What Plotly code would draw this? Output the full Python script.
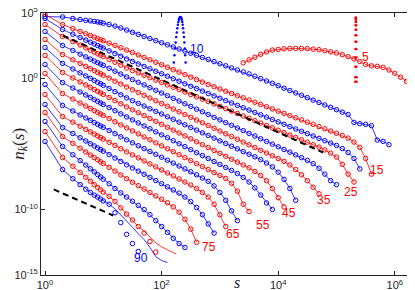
import plotly.graph_objects as go

# common log10(s) grid for the marker series
LOG_S = [0, 0.301, 0.477, 0.602, 0.699, 0.778, 0.845, 0.903, 0.954, 1.0,
         1.1, 1.2, 1.3, 1.4, 1.5, 1.6, 1.7, 1.8, 1.9, 2.0,
         2.1, 2.2, 2.3, 2.4, 2.5, 2.6, 2.7, 2.8, 2.9, 3.0,
         3.1, 3.2, 3.3, 3.4, 3.5, 3.6, 3.7, 3.8, 3.9, 4.0,
         4.1, 4.2, 4.3, 4.4, 4.5, 4.6, 4.7, 4.8, 4.9, 5.0,
         5.1, 5.2, 5.3, 5.4, 5.5, 5.6, 5.7, 5.8, 5.9, 6.0,
         6.1, 6.2, 6.3, 6.4]

# log10 n_k(s) per series (starting at s = 1)
N10 = [4.73, 4.70, 4.58, 4.50, 4.44, 4.40, 4.36, 4.32, 4.28, 4.22,
       4.12, 4.00, 3.86, 3.70, 3.53, 3.37, 3.21, 3.05, 2.89, 2.73,
       2.57, 2.41, 2.25, 2.09, 1.93, 1.77, 1.61, 1.45, 1.29, 1.13,
       0.97, 0.81, 0.65, 0.50, 0.35, 0.17, -0.01, -0.19, -0.37, -0.55,
       -0.74, -0.92, -1.10, -1.28, -1.46, -1.65, -1.83, -2.02, -2.20, -2.38,
       -2.57, -2.75, -3.35, -3.45, -3.50, -3.60, -4.70, -4.80, -5.05]
N15 = [4.89, 4.12, 3.81, 3.59, 3.42, 3.28, 3.16, 3.05, 2.96, 2.88,
       2.70, 2.53, 2.35, 2.17, 1.99, 1.80, 1.61, 1.43, 1.24, 1.05,
       0.86, 0.67, 0.49, 0.30, 0.11, -0.08, -0.27, -0.46, -0.63, -0.80,
       -0.97, -1.14, -1.31, -1.47, -1.64, -1.81, -1.98, -2.15, -2.32, -2.49,
       -2.66, -2.83, -3.00, -3.16, -3.33, -3.50, -3.67, -3.84, -4.01, -4.18,
       -4.35, -4.55, -4.85, -5.25, -6.10, -7.30]
N20 = [4.58, 3.74, 3.38, 3.13, 2.93, 2.77, 2.64, 2.52, 2.41, 2.32,
       2.11, 1.90, 1.70, 1.49, 1.30, 1.11, 0.92, 0.74, 0.55, 0.36,
       0.17, -0.02, -0.21, -0.40, -0.59, -0.77, -0.96, -1.15, -1.33, -1.51,
       -1.69, -1.87, -2.05, -2.23, -2.41, -2.59, -2.77, -2.95, -3.13, -3.31,
       -3.49, -3.67, -3.85, -4.03, -4.21, -4.39, -4.57, -4.75, -4.93, -5.11,
       -5.35, -5.65, -6.10, -6.90]
N25 = [4.12, 3.21, 2.82, 2.55, 2.34, 2.16, 2.01, 1.89, 1.78, 1.68,
       1.46, 1.24, 1.02, 0.80, 0.61, 0.43, 0.25, 0.06, -0.12, -0.30,
       -0.49, -0.67, -0.85, -1.03, -1.22, -1.40, -1.58, -1.76, -1.94, -2.13,
       -2.31, -2.49, -2.67, -2.86, -3.04, -3.22, -3.40, -3.59, -3.77, -3.95,
       -4.13, -4.32, -4.50, -4.68, -4.86, -5.05, -5.24, -5.45, -5.70, -6.00,
       -6.55, -7.30, -7.90]
N30 = [3.59, 2.52, 2.14, 1.86, 1.65, 1.48, 1.33, 1.21, 1.10, 1.00,
       0.78, 0.56, 0.34, 0.12, -0.08, -0.29, -0.49, -0.70, -0.90, -1.11,
       -1.31, -1.52, -1.72, -1.93, -2.13, -2.34, -2.54, -2.75, -2.96, -3.16,
       -3.37, -3.57, -3.78, -3.98, -4.19, -4.39, -4.60, -4.80, -5.01, -5.21,
       -5.42, -5.62, -5.83, -6.04, -6.25, -6.50, -6.85, -7.30, -7.80, -8.10]
N35 = [2.98, 1.83, 1.43, 1.15, 0.93, 0.75, 0.60, 0.47, 0.36, 0.25,
       0.03, -0.20, -0.42, -0.65, -0.86, -1.07, -1.28, -1.49, -1.70, -1.91,
       -2.12, -2.33, -2.54, -2.75, -2.96, -3.17, -3.38, -3.59, -3.80, -4.01,
       -4.22, -4.43, -4.64, -4.85, -5.06, -5.27, -5.48, -5.69, -5.90, -6.11,
       -6.32, -6.60, -6.95, -7.35, -7.80, -8.30, -8.80]
N40 = [2.37, 1.15, 0.73, 0.43, 0.20, 0.01, -0.15, -0.29, -0.41, -0.52,
       -0.76, -1.00, -1.24, -1.48, -1.69, -1.90, -2.10, -2.31, -2.51, -2.71,
       -2.92, -3.12, -3.33, -3.53, -3.74, -3.94, -4.15, -4.35, -4.55, -4.76,
       -4.96, -5.17, -5.37, -5.58, -5.78, -5.98, -6.19, -6.45, -6.75, -7.15,
       -7.70, -8.40, -9.30]
N45 = [1.76, 0.46, 0.04, -0.26, -0.49, -0.68, -0.84, -0.98, -1.10, -1.21,
       -1.45, -1.69, -1.93, -2.17, -2.39, -2.61, -2.83, -3.05, -3.27, -3.50,
       -3.72, -3.94, -4.16, -4.38, -4.60, -4.83, -5.05, -5.27, -5.49, -5.71,
       -5.94, -6.16, -6.38, -6.60, -6.82, -7.10, -7.40, -7.80, -8.40, -9.10,
       -9.80]
N50 = [1.07, -0.31, -0.73, -1.03, -1.26, -1.45, -1.61, -1.75, -1.87, -1.98,
       -2.22, -2.46, -2.70, -2.93, -3.16, -3.39, -3.62, -3.84, -4.07, -4.30,
       -4.52, -4.75, -4.98, -5.20, -5.43, -5.66, -5.88, -6.11, -6.34, -6.56,
       -6.79, -7.02, -7.25, -7.55, -7.90, -8.35, -8.90, -9.50, -10.00]
N55 = [0.38, -1.15, -1.57, -1.87, -2.10, -2.29, -2.45, -2.59, -2.71, -2.82,
       -3.06, -3.30, -3.54, -3.77, -4.00, -4.23, -4.46, -4.68, -4.91, -5.14,
       -5.36, -5.59, -5.82, -6.04, -6.27, -6.50, -6.72, -6.95, -7.18, -7.40,
       -7.63, -8.00, -8.60, -9.60, -10.15]
N60 = [-0.46, -2.06, -2.48, -2.78, -3.01, -3.20, -3.36, -3.50, -3.62, -3.73,
       -3.97, -4.21, -4.45, -4.68, -4.91, -5.13, -5.35, -5.57, -5.79, -6.01,
       -6.24, -6.46, -6.68, -6.90, -7.12, -7.35, -7.60, -7.85, -8.20, -8.70,
       -9.30, -10.10, -10.85]
N65 = [-1.22, -2.90, -3.33, -3.64, -3.88, -4.07, -4.24, -4.38, -4.51, -4.62,
       -4.87, -5.11, -5.36, -5.60, -5.83, -6.06, -6.29, -6.52, -6.75, -6.98,
       -7.21, -7.44, -7.67, -7.90, -8.13, -8.40, -8.70, -9.05, -9.60, -10.40,
       -11.30]
N70 = [-1.98, -3.74, -4.20, -4.52, -4.77, -4.98, -5.15, -5.30, -5.43, -5.55,
       -5.81, -6.07, -6.33, -6.59, -6.83, -7.07, -7.31, -7.55, -7.79, -8.03,
       -8.27, -8.51, -8.75, -9.05, -9.40, -9.85, -10.40, -11.10, -11.80]
N75 = [-2.60, -4.43, -4.95, -5.32, -5.61, -5.84, -6.04, -6.21, -6.36, -6.49,
       -6.78, -7.07, -7.36, -7.65, -7.92, -8.18, -8.44, -8.70, -8.96, -9.22,
       -9.48, -9.80, -10.20, -10.75, -11.50, -12.50]
N80 = [-3.28, -5.19, -5.82, -6.27, -6.61, -6.89, -7.13, -7.34, -7.52, -7.69,
       -8.04, -8.40, -8.73, -9.05, -9.37, -9.69, -10.01, -10.40, -10.85, -11.30,
       -11.75, -12.20, -12.60, -12.90]
N85 = [-4.05, -6.03, -6.70, -7.17, -7.54, -7.84, -8.10, -8.32, -8.50, -8.68,
       -9.00, -9.38, -9.88, -10.35, -10.80, -11.30, -11.80, -12.45, -13.25]
N90 = [-4.81, -6.95, -7.65, -8.10, -8.45, -8.70, -8.90, -9.05, -9.20, -9.35,
       -9.60, -10.25, -11.00, -11.90, -12.60, -13.20]

# theory-line tails that leave the markers (log10 s, log10 n)
TAIL85_L = [1.6, 1.7, 1.8, 1.9, 2.0, 2.1, 2.2, 2.25]
TAIL85_N = [-11.30, -11.65, -12.10, -12.55, -12.85, -13.10, -13.30, -13.40]
TAIL90_L = [1.1, 1.2, 1.3, 1.4, 1.5, 1.6, 1.7, 1.8, 1.9, 2.0, 2.1]
TAIL90_N = [-9.60, -9.95, -10.40, -10.85, -11.35, -11.85, -12.30, -12.90, -13.60, -13.90, -14.05]

# k = 5 hump
L5 = [3.4, 3.5, 3.6, 3.7, 3.8, 3.9, 4.0, 4.1, 4.2, 4.3, 4.4, 4.5, 4.6, 4.7, 4.8,
      4.9, 5.0, 5.1, 5.2, 5.3, 5.4, 5.5, 5.6, 5.7, 5.8, 5.9, 6.0, 6.1, 6.2, 6.3, 6.4]
N5 = [1.20, 1.42, 1.62, 1.85, 2.03, 2.17, 2.22, 2.27, 2.29, 2.30, 2.29, 2.28, 2.24, 2.20, 2.12,
      2.04, 1.95, 1.82, 1.67, 1.50, 1.30, 1.08, 0.97, 0.93, 0.85, 0.65, 0.40, 0.10, -0.22, -0.60, -1.22]

# dotted peaks (s, log10 n)
G10_S = [162, 166, 170, 174, 178, 182, 186, 190, 194, 198, 202, 206, 210,
         214, 218, 222, 226, 230, 234, 238, 242, 246, 250, 254, 258]
G10_N = [1.23, 1.78, 2.29, 2.75, 3.16, 3.52, 3.83, 4.10, 4.31, 4.48, 4.60, 4.68, 4.70,
         4.68, 4.60, 4.48, 4.31, 4.10, 3.83, 3.52, 3.16, 2.75, 2.29, 1.78, 1.23]
G5_S = [209300, 209500, 210000, 210500, 211000, 211500, 212000, 212500, 213000, 213500,
        214000, 214500, 215000, 215500, 216000, 216500, 217000, 217500, 218000, 218500,
        219000, 219500, 220000, 220500, 220700]
G5_N = [-0.24, 0.10, 0.89, 1.61, 2.25, 2.81, 3.30, 3.72, 4.06, 4.32, 4.51, 4.62, 4.66,
        4.62, 4.51, 4.32, 4.06, 3.72, 3.30, 2.81, 2.25, 1.61, 0.89, 0.10, -0.24]

# dashed reference lines (log10 s, log10 n)
DASH1_L = [0.31, 4.77]
DASH1_N = [3.28, -5.65]
DASH2_L = [0.15, 1.17]
DASH2_N = [-8.47, -10.46]

# curve labels
LABELS = ["10", "5", "15", "25", "35", "45", "55", "65", "75", "90"]
LABEL_L = [2.61, 5.49, 5.69, 5.25, 4.79, 4.19, 3.74, 3.22, 2.81, 1.65]
LABEL_N = [2.25, 1.62, -7.02, -8.63, -9.31, -10.23, -11.15, -11.9, -12.9, -13.74]
LABEL_K = [10, 5, 15, 25, 35, 45, 55, 65, 75, 90]

X_TICKS = [1, 1e2, 1e4, 1e6]
X_TEXT = ["10<sup>0</sup>", "10<sup>2</sup>", "10<sup>4</sup>", "10<sup>6</sup>"]
Y_TICKS = [1e-15, 1e-10, 1, 1e5]
Y_TEXT = ["10<sup>-15</sup>", "10<sup>-10</sup>", "10<sup>0</sup>", "10<sup>5</sup>"]

RED = "#ff0000"
BLUE = "#0000ff"


def color(k):
    return RED if (k // 5) % 2 == 1 else BLUE


SERIES = [(10, N10), (15, N15), (20, N20), (25, N25), (30, N30), (35, N35),
          (40, N40), (45, N45), (50, N50), (55, N55), (60, N60), (65, N65),
          (70, N70), (75, N75), (80, N80), (85, N85), (90, N90)]

fig = go.Figure()
MK = dict(symbol="circle-open", size=4.5, line=dict(width=1))

for k, vals in SERIES:
    c = color(k)
    xs = [10 ** L for L in LOG_S[:len(vals)]]
    ys = [10 ** v for v in vals]
    if k == 85:
        lx = xs[:16] + [10 ** L for L in TAIL85_L]
        ly = ys[:16] + [10 ** v for v in TAIL85_N]
    elif k == 90:
        lx = xs[:10] + [10 ** L for L in TAIL90_L]
        ly = ys[:10] + [10 ** v for v in TAIL90_N]
    else:
        lx, ly = xs, ys
    fig.add_trace(go.Scatter(x=lx, y=ly, mode="lines",
                             line=dict(color=c, width=0.8), showlegend=False))
    fig.add_trace(go.Scatter(x=xs, y=ys, mode="markers",
                             marker=dict(color=c, **MK), showlegend=False))

# k = 5
x5 = [10 ** L for L in L5]
y5 = [10 ** v for v in N5]
fig.add_trace(go.Scatter(x=x5, y=y5, mode="lines+markers",
                         line=dict(color=RED, width=0.8),
                         marker=dict(color=RED, **MK), showlegend=False))

# dotted peaks
fig.add_trace(go.Scatter(x=G10_S, y=[10 ** v for v in G10_N], mode="markers",
                         marker=dict(color=BLUE, size=2.5), showlegend=False))
fig.add_trace(go.Scatter(x=G5_S, y=[10 ** v for v in G5_N], mode="markers",
                         marker=dict(color=RED, size=2.5), showlegend=False))

# dashed lines
for Ls, Ns in [(DASH1_L, DASH1_N), (DASH2_L, DASH2_N)]:
    fig.add_trace(go.Scatter(x=[10 ** L for L in Ls], y=[10 ** v for v in Ns],
                             mode="lines", line=dict(color="black", width=2, dash="6px,4px"),
                             showlegend=False))

for t, L, N, k in zip(LABELS, LABEL_L, LABEL_N, LABEL_K):
    fig.add_annotation(x=L, y=N, xref="x", yref="y", text=t, showarrow=False,
                       font=dict(family="Liberation Sans, Arial", size=12, color=color(k)))

fig.add_annotation(x=0.514, y=-0.07, xref="paper", yref="paper", text="<i>s</i>",
                   xanchor="center", yanchor="bottom",
                   showarrow=False, font=dict(family="Liberation Serif, serif", size=16, color="#262626"))
fig.add_annotation(x=-0.056, y=0.5, xref="paper", yref="paper",
                   text="<i>n</i><sub><i>k</i></sub>(<i>s</i>)", textangle=-90,
                   xanchor="center", yanchor="middle",
                   showarrow=False, font=dict(family="Liberation Serif, serif", size=17, color="#262626"))

axis_common = dict(showline=True, linecolor="#262626", linewidth=1, mirror="ticks",
                   ticks="inside", ticklen=4, tickcolor="#262626", showgrid=False,
                   zeroline=False, automargin=False, ticklabeloverflow="allow",
                   tickfont=dict(family="Liberation Sans, Arial", size=11, color="#262626"))

fig.update_xaxes(type="log", range=[-0.069, 6.467], tickvals=X_TICKS, ticktext=X_TEXT,
                 **axis_common)
fig.update_yaxes(type="log", range=[-15.001, 5.001], tickvals=Y_TICKS, ticktext=Y_TEXT,
                 **axis_common)

fig.update_layout(width=415, height=290, margin=dict(l=33, r=1, t=5, b=23),
                  plot_bgcolor="white", paper_bgcolor="white", showlegend=False)

fig.write_html("out.html")
